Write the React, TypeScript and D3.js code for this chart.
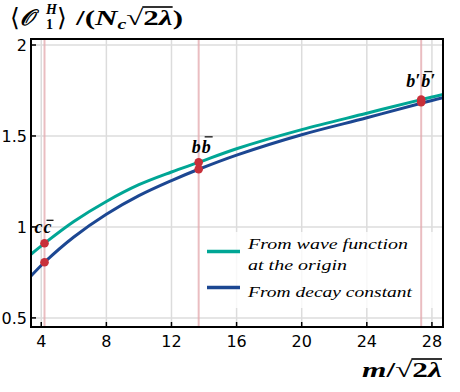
import React, { useRef, useEffect } from "react";
import * as d3 from "d3";

// mass grid (m / sqrt(2 lambda)) and the two curves
const massGrid = [3.37, 4.2, 6, 8, 10, 12, 13.67, 16, 20, 24, 27.34, 28.68];
const waveFunction = [0.85, 0.91, 1.03, 1.14, 1.232, 1.302, 1.355, 1.43, 1.535, 1.625, 1.7, 1.728];
const decayConstant = [0.73, 0.806, 0.945, 1.07, 1.172, 1.255, 1.317, 1.395, 1.507, 1.6, 1.68, 1.71];

// quarkonium states
const stateNames = ["c", "b", "b′"];
const stateMasses = [4.2, 13.67, 27.34];
const stateWave = [0.91, 1.355, 1.7];
const stateDecay = [0.806, 1.317, 1.685];

const xTicks = [4, 8, 12, 16, 20, 24, 28];
const yTicks = [0.5, 1, 1.5, 2];

const legendLabels = [["From wave function", "at the origin"], ["From decay constant"]];

const TEAL = "#00a695";
const BLUE = "#1c4792";
const RED = "#c8303a";

const App = () => {
  const svgRef = useRef(null);

  const draw = () => {
    const W = 460;
    const H = 392;
    const left = 31, right = 443, top = 39, bottom = 327;

    const svg = d3.select(svgRef.current);
    svg.selectAll("*").remove();
    svg.attr("width", W).attr("height", H);

    const x = d3.scaleLinear().domain([3.37, 28.68]).range([left, right]);
    const y = d3.scaleLinear().domain([0.45, 2.033]).range([bottom, top]);

    const serif = "'Liberation Serif', 'Times New Roman', serif";
    const sans = "'DejaVu Sans', sans-serif";

    /* grid */
    const grid = svg.append("g").attr("stroke", "#dcdcdc").attr("stroke-width", 1.5);
    xTicks.forEach((t) =>
      grid.append("line").attr("x1", x(t)).attr("x2", x(t)).attr("y1", top).attr("y2", bottom)
    );
    yTicks.forEach((t) =>
      grid.append("line").attr("x1", left).attr("x2", right).attr("y1", y(t)).attr("y2", y(t))
    );

    /* legend background (semi transparent) */
    svg
      .append("rect")
      .attr("x", 196)
      .attr("y", 232)
      .attr("width", 240)
      .attr("height", 76)
      .attr("fill", "white")
      .attr("fill-opacity", 0.8);

    /* vertical state lines */
    stateMasses.forEach((m) =>
      svg
        .append("line")
        .attr("x1", x(m))
        .attr("x2", x(m))
        .attr("y1", top)
        .attr("y2", bottom)
        .attr("stroke", "#e3a7ac")
        .attr("stroke-opacity", 0.75)
        .attr("stroke-width", 2)
    );

    /* curves */
    svg
      .append("clipPath")
      .attr("id", "plotclip")
      .append("rect")
      .attr("x", left)
      .attr("y", top)
      .attr("width", right - left)
      .attr("height", bottom - top);

    const line = (vals: number[]) =>
      d3
        .line<number>()
        .x((d, i) => x(massGrid[i]))
        .y((d) => y(d))
        .curve(d3.curveCatmullRom.alpha(0.5))(vals);

    svg
      .append("path")
      .attr("d", line(waveFunction))
      .attr("fill", "none")
      .attr("stroke", TEAL)
      .attr("stroke-width", 3)
      .attr("clip-path", "url(#plotclip)");
    svg
      .append("path")
      .attr("d", line(decayConstant))
      .attr("fill", "none")
      .attr("stroke", BLUE)
      .attr("stroke-width", 3)
      .attr("clip-path", "url(#plotclip)");

    /* state points */
    stateMasses.forEach((m, i) => {
      [stateWave[i], stateDecay[i]].forEach((v) =>
        svg.append("circle").attr("cx", x(m)).attr("cy", y(v)).attr("r", 4.3).attr("fill", RED)
      );
    });

    /* state labels: q qbar */
    const labelOffsets = [
      { dx: -10, dy: -10.5, bar: 12.5 },
      { dx: -7, dy: -9, bar: 16.5 },
      { dx: -15, dy: -13, bar: 15 },
    ];
    stateMasses.forEach((m, i) => {
      const bx = x(m) + labelOffsets[i].dx;
      const by = y(stateWave[i]) + labelOffsets[i].dy;
      const t = svg
        .append("text")
        .attr("x", bx)
        .attr("y", by)
        .attr("font-family", serif)
        .attr("font-style", "italic")
        .attr("font-weight", "bold")
        .attr("font-size", 18);
      t.append("tspan").text(stateNames[i]);
      t.append("tspan").attr("dx", 1).text(stateNames[i]);
      const node = t.node() as SVGTextElement;
      const k = stateNames[i].length;
      const s = node.getStartPositionOfChar(k);
      const e = node.getEndPositionOfChar(k);
      svg
        .append("line")
        .attr("x1", s.x + 3)
        .attr("x2", e.x + 2)
        .attr("y1", by - labelOffsets[i].bar)
        .attr("y2", by - labelOffsets[i].bar)
        .attr("stroke", "#111")
        .attr("stroke-width", 1.3);
    });

    /* frame */
    svg
      .append("rect")
      .attr("x", left)
      .attr("y", top)
      .attr("width", right - left)
      .attr("height", bottom - top)
      .attr("fill", "none")
      .attr("stroke", "#000")
      .attr("stroke-width", 2);

    /* ticks (inward) and tick labels */
    xTicks.forEach((t) => {
      svg
        .append("line")
        .attr("x1", x(t))
        .attr("x2", x(t))
        .attr("y1", bottom)
        .attr("y2", bottom - 5)
        .attr("stroke", "#000")
        .attr("stroke-width", 1.5);
      svg
        .append("text")
        .attr("x", x(t))
        .attr("y", bottom + 20)
        .attr("text-anchor", "middle")
        .attr("font-family", sans)
        .attr("font-size", 16)
        .text(t);
    });
    yTicks.forEach((t) => {
      svg
        .append("line")
        .attr("x1", left)
        .attr("x2", left + 5)
        .attr("y1", y(t))
        .attr("y2", y(t))
        .attr("stroke", "#000")
        .attr("stroke-width", 1.5);
      svg
        .append("text")
        .attr("x", left - 4)
        .attr("y", y(t) + 6)
        .attr("text-anchor", "end")
        .attr("font-family", sans)
        .attr("font-size", 16)
        .text(t);
    });

    /* legend */
    const legendItems = [
      { color: TEAL, ly: 251.5, lines: legendLabels[0], baselines: [248.5, 269.5] },
      { color: BLUE, ly: 287.5, lines: legendLabels[1], baselines: [297] },
    ];
    const widths: Record<string, number> = {
      "From wave function": 160,
      "at the origin": 99,
      "From decay constant": 164,
    };
    legendItems.forEach((it) => {
      svg
        .append("line")
        .attr("x1", 207)
        .attr("x2", 240)
        .attr("y1", it.ly)
        .attr("y2", it.ly)
        .attr("stroke", it.color)
        .attr("stroke-width", 3.5);
      it.lines.forEach((txt, j) =>
        svg
          .append("text")
          .attr("x", 248)
          .attr("y", it.baselines[j])
          .attr("font-family", serif)
          .attr("font-style", "italic")
          .attr("font-size", 15)
          .attr("textLength", widths[txt])
          .attr("lengthAdjust", "spacingAndGlyphs")
          .text(txt)
      );
    });

    /* y title: < O_1^H > / (N_c sqrt(2 lambda)) */
    const piece = (tx: number, ty: number, txt: string, size: number, italic: boolean, bold = true) =>
      svg
        .append("text")
        .attr("x", tx)
        .attr("y", ty)
        .attr("font-family", serif)
        .attr("font-size", size)
        .attr("font-weight", bold ? "bold" : "normal")
        .attr("font-style", italic ? "italic" : "normal")
        .text(txt);
    piece(10, 26, "⟨", 25, false, false);
    piece(20, 25, "𝒪", 22, true);
    piece(46, 14, "H", 14, true);
    piece(46, 29, "1", 14, false);
    piece(57, 26, "⟩", 25, false, false);

    const title = svg
      .append("text")
      .attr("x", 76)
      .attr("y", 25)
      .attr("font-family", serif)
      .attr("font-size", 22)
      .attr("font-weight", "bold")
      .attr("textLength", 107)
      .attr("lengthAdjust", "spacingAndGlyphs");
    title.append("tspan").text("/(");
    title.append("tspan").attr("font-style", "italic").text("N");
    title.append("tspan").attr("font-size", 14).attr("dy", 4).attr("font-style", "italic").text("c");
    title.append("tspan").attr("dy", -4).text("√");
    title.append("tspan").text("2");
    title.append("tspan").attr("font-style", "italic").text("λ");
    title.append("tspan").text(")");
    const tNode = title.node() as SVGTextElement;
    const nT = tNode.getNumberOfChars();
    const sqEnd = tNode.getEndPositionOfChar(nT - 4);
    const lamEnd = tNode.getEndPositionOfChar(nT - 2);
    svg
      .append("line")
      .attr("x1", sqEnd.x - 1)
      .attr("x2", lamEnd.x)
      .attr("y1", 7)
      .attr("y2", 7)
      .attr("stroke", "#000")
      .attr("stroke-width", 1.6);

    /* x title */
    const xt = svg
      .append("text")
      .attr("x", 362)
      .attr("y", 377)
      .attr("font-family", serif)
      .attr("font-size", 22)
      .attr("font-weight", "bold")
      .attr("textLength", 80)
      .attr("lengthAdjust", "spacingAndGlyphs");
    xt.append("tspan").attr("font-style", "italic").text("m");
    xt.append("tspan").text("/√2");
    xt.append("tspan").attr("font-style", "italic").text("λ");
    const xtNode = xt.node() as SVGTextElement;
    const sx = xtNode.getEndPositionOfChar(2);
    const ex = xtNode.getEndPositionOfChar(xtNode.getNumberOfChars() - 1);
    svg
      .append("line")
      .attr("x1", sx.x - 1)
      .attr("x2", ex.x)
      .attr("y1", 359)
      .attr("y2", 359)
      .attr("stroke", "#000")
      .attr("stroke-width", 1.6);
  };

  useEffect(() => {
    document.body.style.margin = "0";
    draw();
  }, []);

  return (
    <div>
      <svg ref={svgRef} style={{ display: "block" }} />
    </div>
  );
};

export default App;
